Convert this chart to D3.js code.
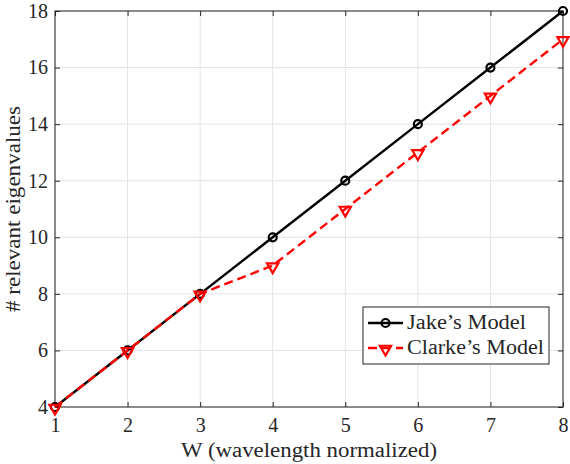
<!DOCTYPE html>
<html>
<head>
<meta charset="utf-8">
<script src="https://cdn.jsdelivr.net/npm/d3@7"></script>
<style>
  body { margin: 0; background: #fff; }
  svg text { font-family: "Liberation Serif", "DejaVu Serif", serif !important; fill: #262626; }
</style>
</head>
<body>
<div id="drawing_region"></div>
<script>
// values
var wValues = [1, 2, 3, 4, 5, 6, 7, 8];
var jakes = [4, 6, 8, 10, 12, 14, 16, 18];
var clarkes = [4, 6, 8, 9, 11, 13, 15, 17];
var xTicks = [1, 2, 3, 4, 5, 6, 7, 8];
var yTicks = [4, 6, 8, 10, 12, 14, 16, 18];

var width = 570, height = 464;
var margin = {top: 11, right: 7, bottom: 57, left: 55};
var iw = width - margin.left - margin.right;
var ih = height - margin.top - margin.bottom;

var svg = d3.select('#drawing_region').append('svg')
    .attr('width', width).attr('height', height)
    .attr('font-family', '"Liberation Serif", serif');
var g = svg.append('g').attr('transform', `translate(${margin.left},${margin.top})`);

var x = d3.scaleLinear().domain([1, 8]).range([0, iw]);
var y = d3.scaleLinear().domain([4, 18]).range([ih, 0]);

// grid
g.append('g').selectAll('line').data(xTicks).join('line')
    .attr('x1', d => x(d)).attr('x2', d => x(d)).attr('y1', 0).attr('y2', ih)
    .attr('stroke', '#e3e3e3').attr('stroke-width', 1);
g.append('g').selectAll('line').data(yTicks).join('line')
    .attr('y1', d => y(d)).attr('y2', d => y(d)).attr('x1', 0).attr('x2', iw)
    .attr('stroke', '#e3e3e3').attr('stroke-width', 1);

// axes, ticks inward on all four sides
function styleAxis(sel) {
    sel.attr('font-family', null);
    sel.select('.domain').remove();
    sel.selectAll('.tick line').attr('stroke', '#262626');
    sel.selectAll('.tick text').style('font-size', '20px').attr('fill', '#262626');
}
g.append('g').attr('transform', `translate(0,${ih})`)
    .call(d3.axisBottom(x).tickValues(xTicks).tickSizeInner(-5).tickPadding(11).tickFormat(d3.format('d')))
    .call(styleAxis);
g.append('g')
    .call(d3.axisTop(x).tickValues(xTicks).tickSizeInner(-5).tickFormat(''))
    .call(styleAxis);
g.append('g')
    .call(d3.axisLeft(y).tickValues(yTicks).tickSizeInner(-5).tickPadding(7).tickFormat(d3.format('d')))
    .call(styleAxis);
g.append('g').attr('transform', `translate(${iw},0)`)
    .call(d3.axisRight(y).tickValues(yTicks).tickSizeInner(-5).tickFormat(''))
    .call(styleAxis);

g.append('rect').attr('width', iw).attr('height', ih)
    .attr('fill', 'none').attr('stroke', '#262626').attr('stroke-width', 1);

// lines
var line = d3.line().x((d, i) => x(wValues[i])).y(d => y(d));

g.append('path').datum(jakes).attr('d', line)
    .attr('fill', 'none').attr('stroke', '#000').attr('stroke-width', 2.4);
g.append('path').datum(clarkes).attr('d', line)
    .attr('fill', 'none').attr('stroke', '#ff0000').attr('stroke-width', 2.4)
    .attr('stroke-dasharray', '9,5');

var tri = d3.symbol().type(d3.symbolTriangle).size(55);

g.append('g').selectAll('circle').data(jakes).join('circle')
    .attr('cx', (d, i) => x(wValues[i])).attr('cy', d => y(d)).attr('r', 4)
    .attr('fill', 'none').attr('stroke', '#000').attr('stroke-width', 2.2);
g.append('g').selectAll('path').data(clarkes).join('path')
    .attr('d', tri)
    .attr('transform', (d, i) => `translate(${x(wValues[i])},${y(d) + 1}) rotate(180)`)
    .attr('fill', 'none').attr('stroke', '#ff0000').attr('stroke-width', 2.2);

// axis labels
svg.append('text').attr('x', margin.left + iw / 2).attr('y', 457)
    .attr('text-anchor', 'middle').style('font-size', '20px')
    .attr('textLength', 256).attr('lengthAdjust', 'spacingAndGlyphs')
    .text('W (wavelength normalized)');
svg.append('text')
    .attr('transform', `translate(20,${margin.top + ih / 2}) rotate(-90)`)
    .attr('text-anchor', 'middle').style('font-size', '20px')
    .attr('textLength', 206).attr('lengthAdjust', 'spacingAndGlyphs')
    .text('# relevant eigenvalues');

// legend
var lg = svg.append('g').attr('transform', 'translate(363,307)');
lg.append('rect').attr('width', 186).attr('height', 57)
    .attr('fill', '#fff').attr('stroke', '#262626').attr('stroke-width', 1);
var items = [
    {name: "Jake’s Model", color: '#000', dash: null, mark: 'circle', len: 119},
    {name: "Clarke’s Model", color: '#ff0000', dash: '9,5', mark: 'tri', len: 137}
];
items.forEach((it, i) => {
    var cy = 16 + i * 25;
    lg.append('line').attr('x1', 5).attr('x2', 40).attr('y1', cy).attr('y2', cy)
        .attr('stroke', it.color).attr('stroke-width', 2.4).attr('stroke-dasharray', it.dash);
    if (it.mark === 'circle') {
        lg.append('circle').attr('cx', 22.5).attr('cy', cy).attr('r', 4)
            .attr('fill', 'none').attr('stroke', it.color).attr('stroke-width', 2.2);
    } else {
        lg.append('path').attr('d', tri)
            .attr('transform', `translate(22.5,${cy + 1}) rotate(180)`)
            .attr('fill', 'none').attr('stroke', it.color).attr('stroke-width', 2.2);
    }
    lg.append('text').attr('x', 44).attr('y', cy + 6).style('font-size', '20px')
        .attr('textLength', it.len).attr('lengthAdjust', 'spacingAndGlyphs')
        .text(it.name);
});
</script>
</body>
</html>
